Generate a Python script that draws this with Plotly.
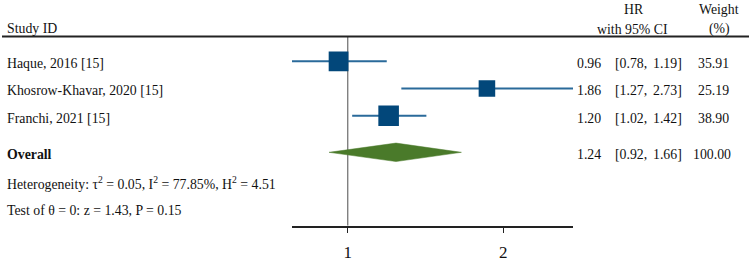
import math
import plotly.graph_objects as go

# ---------------- data ----------------
studies = ["Haque, 2016 [15]", "Khosrow-Khavar, 2020 [15]", "Franchi, 2021 [15]"]
hr = [0.96, 1.86, 1.20]
lo = [0.78, 1.27, 1.02]
hi = [1.19, 2.73, 1.42]
weights = [35.91, 25.19, 38.90]

overall_hr = 1.24
overall_lo = 0.92
overall_hi = 1.66
overall_weight = 100.00

heterogeneity = "Heterogeneity: τ<sup>2</sup> = 0.05, I<sup>2</sup> = 77.85%, H<sup>2</sup> = 4.51"
test_text = "Test of θ = 0: z = 1.43, P = 0.15"
tick_vals = [1, 2]
tick_text = ["1", "2"]

# ---------------- layout constants ----------------
W, H = 749, 262
FONT = "Liberation Serif"
FS = 13.8
PX0, PXROW = 35.0, 28.0          # pixel of row 0, pixels per row
AXIS_PX = 232.0
TOFF = 0.08                       # text vertical nudge (rows)

def row_of(px):
    return (px - PX0) / PXROW

def xp(px):
    return px / W

SQ_COLOR = "#02477a"
CI_COLOR = "#2a6a9a"
DIA_COLOR = "#4a7a2a"

rows = [1 + i for i in range(len(studies))]
overall_row = row_of(156.5)

fig = go.Figure()

# CI lines
cx, cy = [], []
for l, h_, r in zip(lo, hi, rows):
    cx += [l, h_, None]
    cy += [r, r, None]
fig.add_trace(go.Scatter(x=cx, y=cy, mode="lines",
                         line=dict(color=CI_COLOR, width=2), hoverinfo="skip"))

# squares
fig.add_trace(go.Scatter(x=hr, y=rows, mode="markers",
                         marker=dict(symbol="square", color=SQ_COLOR, opacity=1,
                                     size=[3.3 * math.sqrt(w) for w in weights],
                                     line=dict(width=0))))

# diamond
dh = 9.5 / PXROW
fig.add_trace(go.Scatter(
    x=[overall_lo, overall_hr, overall_hi, overall_hr, overall_lo],
    y=[overall_row, overall_row - dh, overall_row, overall_row + dh, overall_row],
    mode="lines", fill="toself", fillcolor=DIA_COLOR,
    line=dict(color=DIA_COLOR, width=0.5), hoverinfo="skip"))

# shapes
header_row = row_of(37.5)
fig.add_shape(type="line", xref="paper", yref="y", x0=xp(2), x1=1,
              y0=header_row, y1=header_row, line=dict(color="#222", width=2))
fig.add_shape(type="line", xref="x", yref="y", x0=1, x1=1,
              y0=header_row, y1=row_of(AXIS_PX), line=dict(color="#777", width=1.3),
              layer="below")

ann = []
def txt(s, x, y, anchor="left", size=FS):
    ann.append(dict(text=s, x=xp(x), y=y, xref="paper", yref="y", xanchor=anchor,
                    yanchor="middle", showarrow=False,
                    font=dict(family=FONT, size=size, color="#111")))

# headers
txt("Study ID", 5, row_of(29))
txt("HR", 634, row_of(9.5), "center")
txt("with 95% CI", 632, row_of(30), "center")
txt("Weight", 719, row_of(9.5), "center")
txt("(%)", 719, row_of(30), "center")

# study rows
for name, e, l, h_, w, r in zip(studies, hr, lo, hi, weights, rows):
    txt(name, 5, r + TOFF)
    txt(f"{e:.2f}", 603, r + TOFF, "right")
    txt(f"[{l:.2f},", 613, r + TOFF, "left")
    txt(f"{h_:.2f}]", 684, r + TOFF, "right")
    txt(f"{w:.2f}", 731, r + TOFF, "right")

txt("<b>Overall</b>", 5, overall_row + TOFF)
txt(f"{overall_hr:.2f}", 603, overall_row + TOFF, "right")
txt(f"[{overall_lo:.2f},", 613, overall_row + TOFF, "left")
txt(f"{overall_hi:.2f}]", 684, overall_row + TOFF, "right")
txt(f"{overall_weight:.2f}", 733, overall_row + TOFF, "right")

txt(heterogeneity, 5, row_of(188.5))
txt(test_text, 5, row_of(216))

fig.update_layout(
    width=W, height=H, margin=dict(l=0, r=0, t=0, b=0),
    paper_bgcolor="white", plot_bgcolor="white", showlegend=False,
    annotations=ann,
    xaxis=dict(type="log", domain=[xp(292), xp(573)],
               range=[math.log10(min(lo)), math.log10(max(hi))],
               showgrid=False, zeroline=False, showline=True,
               linecolor="#222", linewidth=1.5,
               ticks="outside", ticklen=5, tickwidth=1.3, tickcolor="#222",
               tickvals=tick_vals, ticktext=tick_text,
               tickfont=dict(family=FONT, size=17, color="#111"),
               ticklabelstandoff=5),
    yaxis=dict(visible=False, domain=[(H - AXIS_PX) / H, 1],
               range=[row_of(AXIS_PX), row_of(0)]),
)

fig.write_html("out.html", config={"displayModeBar": False},
               post_script="document.body.style.margin='0';document.body.style.overflow='hidden';")
